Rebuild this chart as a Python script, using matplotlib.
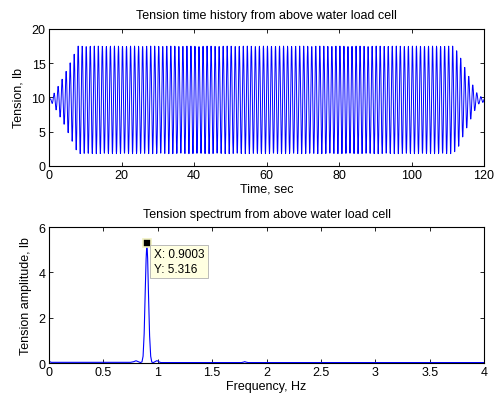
import numpy as np
import matplotlib
matplotlib.use("Agg")
import matplotlib.pyplot as plt

plt.rcParams['font.family'] = ['Liberation Sans', 'DejaVu Sans']

# ---- Time history data ----
osc_freq_hz = 0.9003          # dominant tension frequency
tension_mean = 9.65           # mean tension, lb
env_times = [0.0, 0.6, 2.0, 4.0, 6.0, 8.0, 111.5, 113.0, 114.5, 116.0, 117.5, 118.5, 120.0]
env_amps  = [0.0, 0.3, 1.5, 3.4, 5.6, 7.85, 7.85, 6.8, 5.0, 3.2, 1.5, 0.6, 0.3]
t_end = 120.0
sample_dt = 0.05

# ---- Spectrum data ----
spec_freq = [0.0, 0.01, 0.02, 0.75, 0.78, 0.80, 0.82, 0.84, 0.855, 0.865, 0.875, 0.885,
             0.893, 0.9003, 0.907, 0.915, 0.925, 0.935, 0.945, 0.96, 0.975, 0.99, 1.0,
             1.015, 1.03, 1.77, 1.79, 1.80, 1.81, 1.83, 4.0]
spec_amp  = [0.1, 0.05, 0.03, 0.03, 0.06, 0.10, 0.06, 0.02, 0.05, 0.3, 1.3, 3.2,
             4.6, 5.316, 4.6, 3.0, 1.2, 0.3, 0.04, 0.02, 0.06, 0.10, 0.09,
             0.04, 0.02, 0.02, 0.04, 0.06, 0.04, 0.02, 0.02]
tip_x, tip_y = 0.9003, 5.316

t = np.arange(0.0, t_end + sample_dt / 2, sample_dt)
env = np.interp(t, env_times, env_amps)
tension = tension_mean + env * np.sin(2 * np.pi * osc_freq_hz * t)

fig = plt.figure(figsize=(4.94, 4.02), dpi=100)
fs = 9

def style(ax):
    ax.tick_params(direction='in', top=True, right=True, labelsize=fs, length=3,
                   width=0.6, pad=2.5)
    for s in ax.spines.values():
        s.set_linewidth(0.8)

ax1 = fig.add_axes([0.0992, 0.5846, 0.8806, 0.3408])
ax1.plot(t, tension, color='#0000ff', lw=0.7)
ax1.set_xlim(0, 120)
ax1.set_ylim(0, 20)
ax1.set_xticks(np.arange(0, 121, 20))
ax1.set_yticks(np.arange(0, 21, 5))
ax1.set_title('Tension time history from above water load cell', fontsize=fs, pad=8)
ax1.set_xlabel('Time, sec', fontsize=fs, labelpad=1)
ax1.set_ylabel('Tension, lb', fontsize=fs, labelpad=5)
style(ax1)

ax2 = fig.add_axes([0.0992, 0.0945, 0.8806, 0.3383])
ax2.plot(spec_freq, spec_amp, color='#0000ff', lw=0.8)
ax2.set_xlim(0, 4)
ax2.set_ylim(0, 6)
ax2.set_xticks(np.arange(0, 4.01, 0.5))
ax2.set_xticklabels(['0', '0.5', '1', '1.5', '2', '2.5', '3', '3.5', '4'])
ax2.set_yticks([0, 2, 4, 6])
ax2.set_title('Tension spectrum from above water load cell', fontsize=fs, pad=7)
ax2.set_xlabel('Frequency, Hz', fontsize=fs, labelpad=1)
ax2.set_ylabel('Tension amplitude, lb', fontsize=fs, labelpad=5)
style(ax2)

ax2.plot([tip_x], [tip_y], marker='s', ms=6, mfc='black', mec='#f0f0c0', mew=1.2,
         zorder=5, clip_on=False)
ax2.annotate(f'X: {tip_x:.4f}\nY: {tip_y:.3f}', xy=(tip_x, tip_y),
             xytext=(5, -4), textcoords='offset points', ha='left', va='top',
             fontsize=fs - 0.5, linespacing=1.3,
             bbox=dict(boxstyle='square,pad=0.3', fc='#ffffe1', ec='#b0b0b0', lw=0.6),
             zorder=6)

fig.savefig('out.png', dpi=100)
